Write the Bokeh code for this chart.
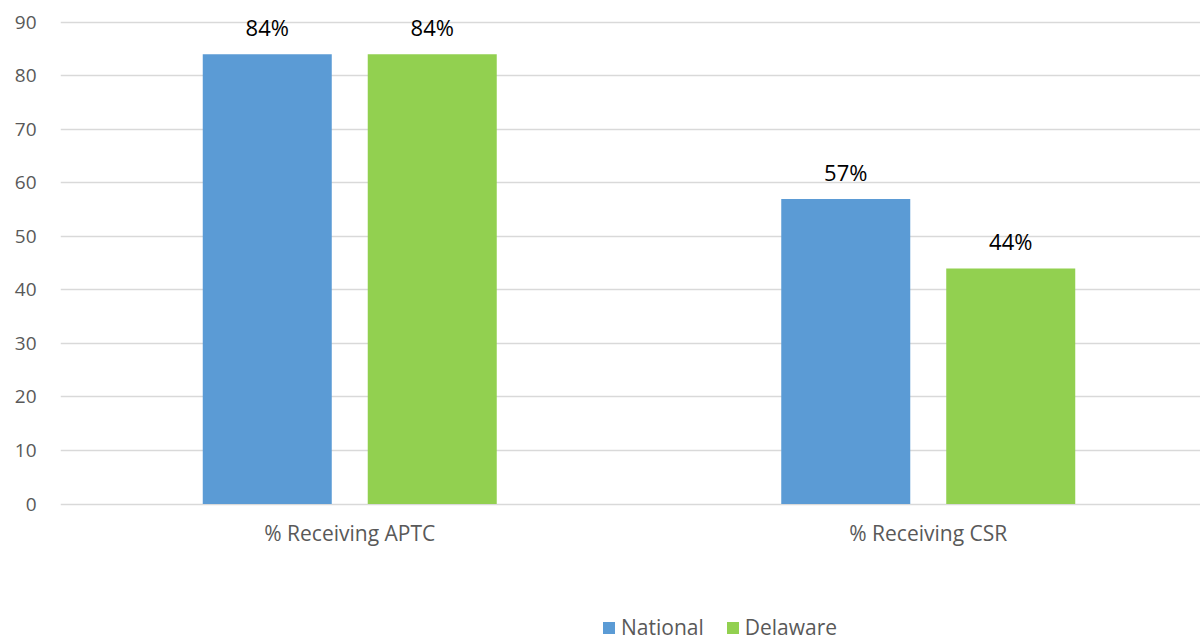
from bokeh.plotting import figure
from bokeh.models import ColumnDataSource, Range1d, FixedTicker, Legend, LegendItem
from bokeh.core.properties import value
from bokeh.embed import file_html
from bokeh.resources import INLINE

# Share of marketplace enrollees receiving assistance, by program
categories = ["% Receiving APTC", "% Receiving CSR"]
national = [84, 57]
delaware = [84, 44]
series_names = ["National", "Delaware"]
y_ticks = [0, 10, 20, 30, 40, 50, 60, 70, 80, 90]

BLUE = "#5B9BD5"
GREEN = "#92D050"
GRID = "#d9d9d9"
TEXT = "#595959"
FONT = "Open Sans"

BAR_W = 0.223
OFFSET = 0.1426

centers = [i + 0.5 for i in range(len(categories))]

src_nat = ColumnDataSource(dict(
    x=[c - OFFSET for c in centers], top=national,
    label=[f"{v}%" for v in national]))
src_del = ColumnDataSource(dict(
    x=[c + OFFSET for c in centers], top=delaware,
    label=[f"{v}%" for v in delaware]))

# the frame runs to the bottom edge so the legend below the axis stays visible
p = figure(frame_width=1140, frame_height=630, output_backend="svg",
           toolbar_location=None,
           x_range=Range1d(0, 1140 / 578.5), y_range=Range1d(-25.67, 92),
           min_border_left=60, min_border_right=0, min_border_top=11,
           min_border_bottom=0)
p.outline_line_color = None
p.background_fill_color = "white"
p.border_fill_color = "white"

r_nat = p.vbar(x="x", top="top", width=BAR_W, bottom=0, source=src_nat,
               fill_color=BLUE, line_color=None)
r_del = p.vbar(x="x", top="top", width=BAR_W, bottom=0, source=src_del,
               fill_color=GREEN, line_color=None)

for src in (src_nat, src_del):
    p.text(x="x", y="top", text="label", source=src, text_align="center",
           text_baseline="middle", y_offset=-27, text_color="black",
           text_font=value(FONT), text_font_size="22px")

# category axis pinned to the zero line
p.xaxis.fixed_location = 0
p.xaxis.ticker = FixedTicker(ticks=centers)
p.xaxis.major_label_overrides = {c: name for c, name in zip(centers, categories)}
p.xaxis.axis_line_color = None
p.xaxis.major_tick_line_color = None
p.xaxis.minor_tick_line_color = None
p.xaxis.major_label_standoff = 9
p.xaxis.major_label_text_font = FONT
p.xaxis.major_label_text_font_size = "21px"
p.xaxis.major_label_text_color = TEXT

p.yaxis.ticker = FixedTicker(ticks=y_ticks)
p.yaxis.axis_line_color = None
p.yaxis.major_tick_line_color = None
p.yaxis.minor_tick_line_color = None
p.yaxis.major_label_standoff = 18
p.yaxis.major_label_text_font = FONT
p.yaxis.major_label_text_font_size = "19px"
p.yaxis.major_label_text_color = TEXT

p.xgrid.grid_line_color = None
p.ygrid.grid_line_color = GRID
p.ygrid.grid_line_width = 1.5

legend = Legend(items=[LegendItem(label=series_names[0], renderers=[r_nat]),
                       LegendItem(label=series_names[1], renderers=[r_del])],
                orientation="horizontal", location=(541, 0),
                label_text_font=FONT, label_text_font_size="21px",
                label_text_color=TEXT, glyph_width=15, glyph_height=15,
                spacing=21, label_standoff=5, padding=0, margin=0,
                border_line_color=None, background_fill_alpha=0)
p.add_layout(legend)

open("out.html", "w").write(file_html(p, INLINE))
